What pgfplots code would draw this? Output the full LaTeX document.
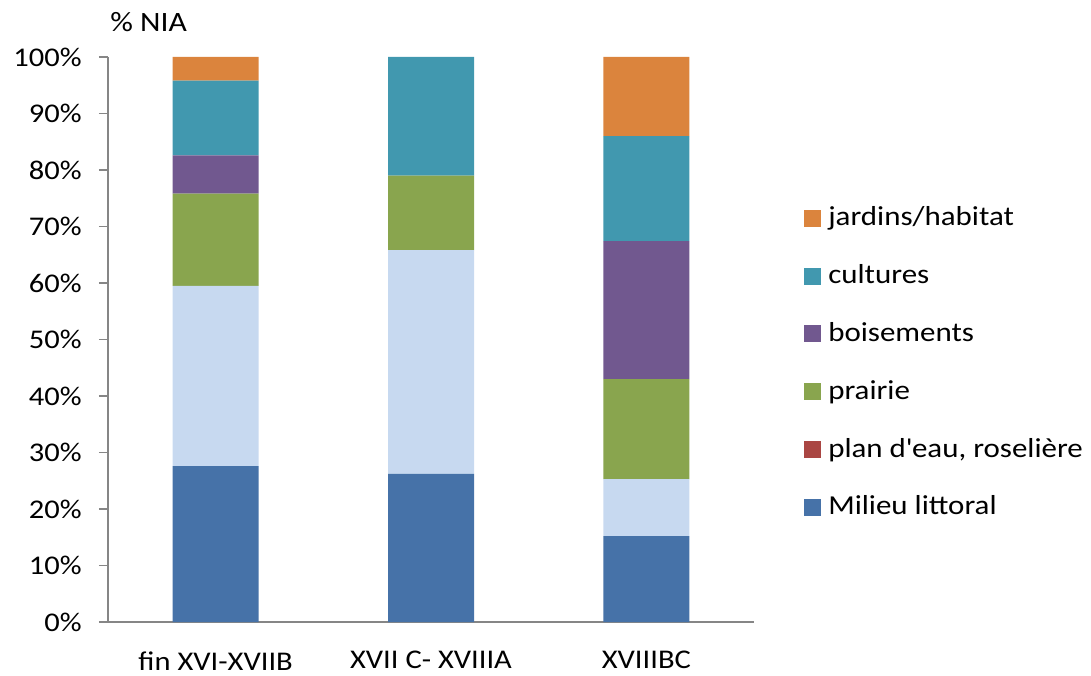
\documentclass[border=0pt]{standalone}
\usepackage{fontspec}
\setmainfont{Carlito}[FakeStretch=1.13]
\usepackage{pgfplots}
\pgfplotsset{compat=1.18}
\definecolor{cML}{HTML}{4672A8}
\definecolor{cLB}{HTML}{C7D9F0}
\definecolor{cPE}{HTML}{AA4643}
\definecolor{cPR}{HTML}{89A54E}
\definecolor{cBO}{HTML}{71588F}
\definecolor{cCU}{HTML}{4198AF}
\definecolor{cJA}{HTML}{DB843D}
\definecolor{axgray}{HTML}{868686}
\begin{document}
\fontsize{13.5pt}{16pt}\selectfont
\begin{tikzpicture}
\useasboundingbox (-54pt,-26.5pt) rectangle (491.5pt,311pt);
\begin{axis}[
  at={(0,0)}, anchor=south west, clip=false,
  scale only axis, width=323pt, height=282.5pt,
  ybar stacked, bar width=43pt,
  xmin=-0.5, xmax=2.5, ymin=0, ymax=100,
  axis x line*=bottom, axis y line*=left,
  axis line style={draw=axgray, line width=0.75pt, -},
  xtick={0,1,2},
  xticklabels={fin XVI-XVIIB, XVII C- XVIIIA, XVIIIBC},
  x tick style={draw=none},
  extra x ticks={-0.5,0.5,1.5,2.5},
  extra x tick labels={},
  extra x tick style={tick style={draw=axgray, line width=0.75pt}, major tick length=4.5pt, tick align=outside},
  xticklabel style={yshift=-5.5pt},
  ytick={0,10,...,100},
  yticklabels={0\%,10\%,20\%,30\%,40\%,50\%,60\%,70\%,80\%,90\%,100\%},
  y tick style={draw=axgray, line width=0.75pt},
  major tick length=4.5pt, tick align=outside,
  yticklabel style={xshift=-4pt},
  reverse legend,
  legend style={draw=none, fill=none, at={(1.067,0.750)}, anchor=north west,
    legend cell align=left, row sep=13.4pt, font=\fontsize{13.7pt}{16pt}\selectfont,
    /tikz/every even column/.append style={column sep=0pt},
    /tikz/every odd column/.append style={column sep=1.8pt}},
  legend image code/.code={\fill[#1] (0pt,-4.25pt) rectangle (8.5pt,4.25pt);},
  every axis plot/.append style={draw=none},
]
\addplot[fill=cML] coordinates {(0,27.6) (1,26.2) (2,15.2)};
\addlegendentry{Milieu littoral}
\addplot[fill=cLB, forget plot] coordinates {(0,31.9) (1,39.6) (2,10.1)};
\addplot[fill=cPE] coordinates {(0,0) (1,0) (2,0)};
\addlegendentry{plan d\textquotesingle eau, roselière}
\addplot[fill=cPR] coordinates {(0,16.3) (1,13.2) (2,17.7)};
\addlegendentry{prairie}
\addplot[fill=cBO] coordinates {(0,6.8) (1,0) (2,24.4)};
\addlegendentry{boisements}
\addplot[fill=cCU] coordinates {(0,13.2) (1,21.0) (2,18.6)};
\addlegendentry{cultures}
\addplot[fill=cJA] coordinates {(0,4.2) (1,0) (2,14.0)};
\addlegendentry{jardins/habitat}
\node[anchor=base west, inner sep=0pt] at ([xshift=1pt,yshift=12.5pt]rel axis cs:0,1) {\fontsize{14pt}{16pt}\selectfont\% NIA};
\end{axis}
\end{tikzpicture}
\end{document}
